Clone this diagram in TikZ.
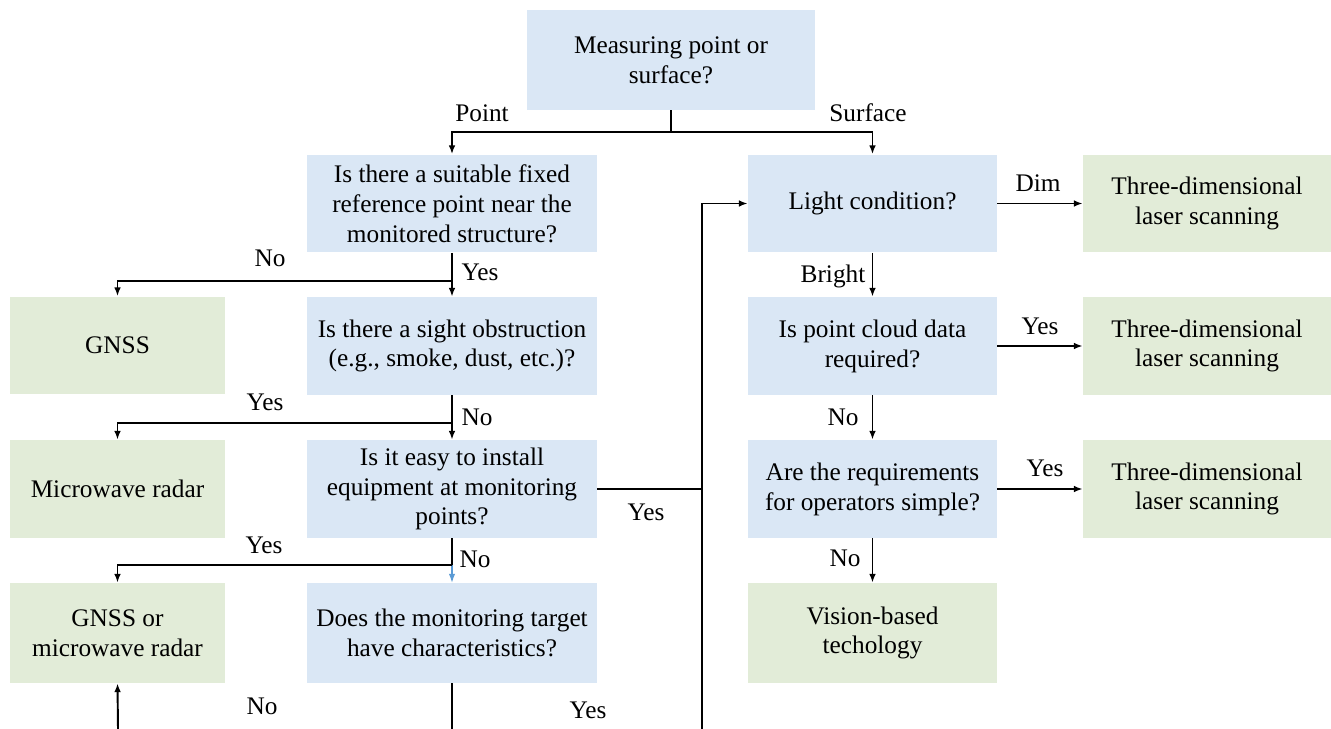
\documentclass[tikz,border=0pt]{standalone}
\usepackage{fontspec}
\setmainfont{Liberation Serif}
\usetikzlibrary{arrows.meta}
\definecolor{qblue}{HTML}{DAE7F5}
\definecolor{agreen}{HTML}{E2ECD8}
\definecolor{linkblue}{HTML}{5B9BD5}
\tikzset{
  box/.style={inner sep=0pt, align=center, font=\fontsize{14.4}{17}\selectfont},
  qbox/.style={box, fill=qblue},
  abox/.style={box, fill=agreen},
  wideq/.style={qbox, minimum width=5.8cm, minimum height=1.96cm},
  rightq/.style={qbox, minimum width=4.98cm, minimum height=1.96cm},
  rightg/.style={abox, minimum width=4.96cm, minimum height=1.96cm},
  leftg/.style={abox, minimum width=4.3cm, minimum height=1.96cm},
  lbl/.style={inner sep=0pt, font=\fontsize{14.4}{17}\selectfont},
  conn/.style={line width=1.1pt, draw=black},
  arr/.style={conn, -{Latex[length=5pt,width=3.8pt]}},
  barr/.style={line width=0.6pt, draw=linkblue, -{Latex[length=5pt,width=3.6pt]}}
}
\begin{document}
\begin{tikzpicture}[x=0.02cm, y=-0.02cm]
\useasboundingbox (0,0) rectangle (1331,729);
% nodes
\node[qbox, minimum width=5.76cm, minimum height=2.0cm] (top) at (671,60) {Measuring point or\\surface?};
\node[wideq] (q1) at (452,203.5) {Is there a suitable fixed\\reference point near the\\monitored structure?};
\node[wideq] (q2) at (452,346) {Is there a sight obstruction\\(e.g., smoke, dust, etc.)?};
\node[wideq] (q3) at (452,489) {Is it easy to install\\equipment at monitoring\\points?};
\node[wideq, minimum height=2.0cm] (q4) at (452,633) {Does the monitoring target\\have characteristics?};
\node[leftg] (gnss) at (117.5,345.5) {GNSS};
\node[leftg] (mr) at (117.5,489) {Microwave radar};
\node[leftg, minimum height=2.0cm] (gm) at (117.5,633) {GNSS or\\microwave radar};
\node[rightq] (lc) at (872.5,203.5) {Light condition?};
\node[rightq] (pc) at (872.5,346) {Is point cloud data\\required?};
\node[rightq] (rq) at (872.5,489) {Are the requirements\\for operators simple?};
\node[rightq, fill=agreen, minimum height=2.0cm] (vb) at (872.5,633) {Vision-based\\techology};
\node[rightg] (g1) at (1207,203.5) {Three-dimensional\\laser scanning};
\node[rightg] (g2) at (1207,346) {Three-dimensional\\laser scanning};
\node[rightg] (g3) at (1207,489) {Three-dimensional\\laser scanning};
% junction coordinates
\coordinate (j0) at (671,132);
\coordinate (j1) at (452,281);
\coordinate (j2) at (452,423);
\coordinate (j3) at (452,565);
\coordinate (vx) at (702,489);
\coordinate (vb0) at (702,729);
\coordinate (b1) at (452,729);
\coordinate (b2) at (118,729);
% connectors
\draw[conn] (top.south) -- (j0);
\draw[arr] (j0) -| (q1.north);
\draw[arr] (j0) -| (lc.north);
\draw[arr] (q1.south) -- (q2.north);
\draw[arr] (j1) -| (gnss.north);
\draw[arr] (q2.south) -- (q3.north);
\draw[arr] (j2) -| (mr.north);
\draw[conn] (q3.south) -- (j3);
\draw[barr] (j3) -- (q4.north);
\draw[arr] (j3) -| (gm.north);
\draw[conn] (q3.east) -- (vx);
\draw[arr] (vb0) |- (lc.west);
\draw[conn] (q4.south) -- (b1);
\draw[arr] (b2) -- (gm.south);
\draw[arr] (lc.east) -- (g1.west);
\draw[arr] (lc.south) -- (pc.north);
\draw[arr] (pc.east) -- (g2.west);
\draw[arr] (pc.south) -- (rq.north);
\draw[arr] (rq.east) -- (g3.west);
\draw[arr] (rq.south) -- (vb.north);
% labels
\node[lbl] (lpoint) at (482,113) {Point};
\node[lbl] (lsurf) at (868,113) {Surface};
\node[lbl] (l1) at (270,258) {No};
\node[lbl] (l2) at (480,272) {Yes};
\node[lbl] (l3) at (265,402) {Yes};
\node[lbl] (l4) at (477,417) {No};
\node[lbl] (l5) at (264,545) {Yes};
\node[lbl] (l6) at (475,559) {No};
\node[lbl] (l7) at (262,706) {No};
\node[lbl] (l8) at (588,710) {Yes};
\node[lbl] (l9) at (646,512) {Yes};
\node[lbl] (l10) at (1038,183) {Dim};
\node[lbl] (l11) at (833,276) {Bright};
\node[lbl] (l12) at (1040,326) {Yes};
\node[lbl] (l13) at (843,417) {No};
\node[lbl] (l14) at (1045,468) {Yes};
\node[lbl] (l15) at (845,558) {No};
\end{tikzpicture}
\end{document}
